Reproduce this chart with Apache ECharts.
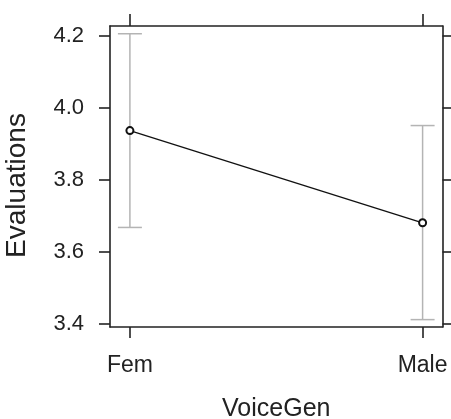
<!DOCTYPE html>
<html>
<head>
<meta charset="utf-8">
<script src="https://cdn.jsdelivr.net/npm/echarts@6/dist/echarts.min.js"></script>
<style>
  html, body { margin: 0; padding: 0; background: #fff; }
  #chart { width: 451px; height: 419px; }
</style>
</head>
<body>
<div id="chart"></div>
<script>
// Effect of voice gender on evaluations: fitted means with confidence bounds
const categories = ['Fem', 'Male'];
const means = [3.936, 3.680];
const lower = [3.667, 3.411];
const upper = [4.205, 3.950];
const yTicks = [3.4, 3.6, 3.8, 4.0, 4.2];

const xPos = categories.map((_, i) => i + 1);
const font = '"Liberation Sans", Arial, sans-serif';
const ink = '#222';

const chart = echarts.init(document.getElementById('chart'));

const boxLine = { show: true, lineStyle: { color: ink, width: 1.6 } };
const tickStyle = (len) => ({ show: true, inside: false, length: len, lineStyle: { color: ink, width: 1.6 } });

chart.setOption({
  animation: false,
  backgroundColor: '#fff',
  grid: { left: 110, top: 26, right: 8.5, bottom: 92, containLabel: false, outerBoundsMode: 'none' },
  xAxis: [
    {
      type: 'value', min: 0.932, max: 2.068, position: 'bottom',
      axisLine: boxLine, splitLine: { show: false },
      axisTick: Object.assign(tickStyle(11), { customValues: xPos }),
      axisLabel: {
        customValues: xPos, margin: 27, fontSize: 23, color: ink, fontFamily: font,
        formatter: (v) => categories[Math.round(v) - 1]
      },
      name: 'VoiceGen', nameLocation: 'middle', nameGap: 70,
      nameTextStyle: { fontSize: 25, color: ink, fontFamily: font }
    },
    {
      type: 'value', min: 0.932, max: 2.068, position: 'top',
      axisLine: boxLine, splitLine: { show: false },
      axisTick: Object.assign(tickStyle(12), { customValues: xPos }),
      axisLabel: { show: false }
    }
  ],
  yAxis: [
    {
      type: 'value', min: 3.3905, max: 4.2265, position: 'left',
      axisLine: boxLine, splitLine: { show: false },
      axisTick: Object.assign(tickStyle(11), { customValues: yTicks }),
      axisLabel: {
        customValues: yTicks, margin: 26, fontSize: 22, color: ink, fontFamily: font,
        formatter: (v) => v.toFixed(1)
      },
      name: 'Evaluations', nameLocation: 'middle', nameGap: 79,
      nameTextStyle: { fontSize: 28, color: ink, fontFamily: font, padding: [0, 18, 0, 0] }
    },
    {
      type: 'value', min: 3.3905, max: 4.2265, position: 'right',
      axisLine: boxLine, splitLine: { show: false },
      axisTick: Object.assign(tickStyle(11), { customValues: yTicks }),
      axisLabel: { show: false }
    }
  ],
  series: [
    {
      // confidence interval whiskers
      type: 'custom',
      xAxisIndex: 0, yAxisIndex: 0,
      data: xPos.map((x, i) => [x, lower[i], upper[i]]),
      renderItem: function (params, api) {
        const lo = api.coord([api.value(0), api.value(1)]);
        const hi = api.coord([api.value(0), api.value(2)]);
        const half = 12;
        const style = { stroke: '#b4b4b4', lineWidth: 1.5, fill: null };
        return {
          type: 'group',
          children: [
            { type: 'line', shape: { x1: lo[0], y1: lo[1], x2: hi[0], y2: hi[1] }, style: style },
            { type: 'line', shape: { x1: lo[0] - half, y1: lo[1], x2: lo[0] + half, y2: lo[1] }, style: style },
            { type: 'line', shape: { x1: hi[0] - half, y1: hi[1], x2: hi[0] + half, y2: hi[1] }, style: style }
          ]
        };
      },
      z: 1
    },
    {
      // fitted means
      type: 'line',
      xAxisIndex: 0, yAxisIndex: 0,
      data: xPos.map((x, i) => [x, means[i]]),
      symbol: 'emptyCircle', symbolSize: 7,
      lineStyle: { color: '#111', width: 1.3 },
      itemStyle: { color: '#111', borderWidth: 1.2 },
      z: 3
    }
  ]
});
</script>
</body>
</html>
